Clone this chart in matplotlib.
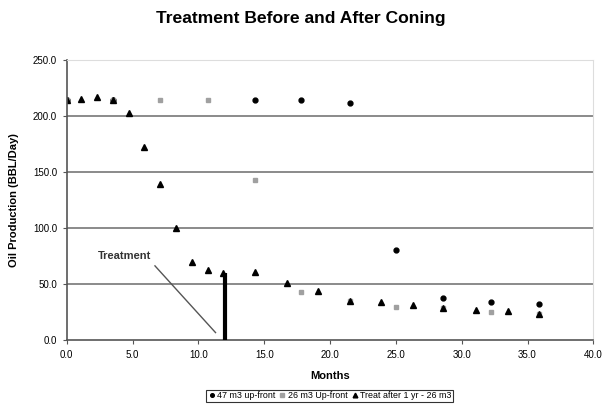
import matplotlib.pyplot as plt

plt.rcParams['font.family'] = ['Liberation Sans', 'DejaVu Sans']

# 47 m3 up-front
up47_months = [0.0, 3.5, 14.3, 17.8, 21.5, 25.0, 28.6, 32.2, 35.9]
up47_rate = [214, 214, 214, 214, 211, 80, 37, 34, 32]

# 26 m3 up-front
up26_months = [0.0, 3.5, 7.1, 10.7, 14.3, 17.8, 21.5, 25.0, 28.6, 32.2, 35.9]
up26_rate = [214, 214, 214, 214, 143, 43, 35, 29, 28, 24.5, 23]

# treatment after 1 year - 26 m3
late_months = [0.0, 1.1, 2.3, 3.5, 4.7, 5.9, 7.1, 8.3, 9.5, 10.7, 11.9,
               14.3, 16.7, 19.1, 21.5, 23.9, 26.3, 28.6, 31.1, 33.5, 35.9]
late_rate = [214, 215, 217, 214, 202.5, 172, 139, 100, 69.5, 62.5, 60,
             60.5, 50.5, 44, 35, 33.5, 31, 28, 26.5, 25.5, 23]

treatment_month = 12.0
treatment_rate = 60

fig = plt.figure(figsize=(6.07, 4.08), dpi=100)
ax = fig.add_axes([0.110, 0.167, 0.8675, 0.687])

for y in [50, 100, 150, 200]:
    ax.axhline(y, color='#8a8a8a', lw=1.4, zorder=0)

ax.plot(up47_months, up47_rate, 'o', color='black', ms=3.5, ls='none',
        label='47 m3 up-front')
ax.plot(up26_months, up26_rate, 's', color='#a0a0a0', ms=3.5, ls='none',
        label='26 m3 Up-front')
ax.plot(late_months, late_rate, '^', color='black', ms=4.5, ls='none',
        label='Treat after 1 yr - 26 m3')

# treatment marker and callout
ax.plot([treatment_month, treatment_month], [0, treatment_rate], color='black',
        lw=3, solid_capstyle='butt', zorder=3)
ax.plot([6.7, 11.3], [66, 6.5], color='#555555', lw=1)
ax.text(4.4, 75, 'Treatment', fontsize=8, fontweight='bold', color='#333333',
        ha='center', va='center')

ax.set_xlim(0, 40)
ax.set_ylim(0, 250)
ax.set_xticks([0, 5, 10, 15, 20, 25, 30, 35, 40])
ax.set_xticklabels([f'{v:.1f}' for v in range(0, 45, 5)])
ax.set_yticks([0, 50, 100, 150, 200, 250])
ax.set_yticklabels([f'{v:.1f}' for v in range(0, 300, 50)])
ax.tick_params(labelsize=7, length=3, width=0.8, color='#555555', pad=4)

for side in ['left', 'bottom']:
    ax.spines[side].set_color('#555555')
    ax.spines[side].set_linewidth(1.2)
for side in ['top', 'right']:
    ax.spines[side].set_color('#dddddd')
    ax.spines[side].set_linewidth(0.8)

ax.set_xlabel('Months', fontsize=8, fontweight='bold', labelpad=8)
ax.set_ylabel('Oil Production (BBL/Day)', fontsize=8, fontweight='bold', labelpad=10)
fig.suptitle('Treatment Before and After Coning', fontsize=12.6, fontweight='bold',
             x=0.495, y=0.972)

leg = fig.legend(loc='center', bbox_to_anchor=(0.543, 0.0295), ncol=3,
                 fontsize=6.4, handlelength=0.8, handletextpad=0.2,
                 columnspacing=0.4, borderpad=0.2, markerscale=0.75,
                 fancybox=False, frameon=True, borderaxespad=0)
leg.get_frame().set_edgecolor('black')
leg.get_frame().set_linewidth(0.8)

plt.savefig('out.png', dpi=100)
plt.close()
